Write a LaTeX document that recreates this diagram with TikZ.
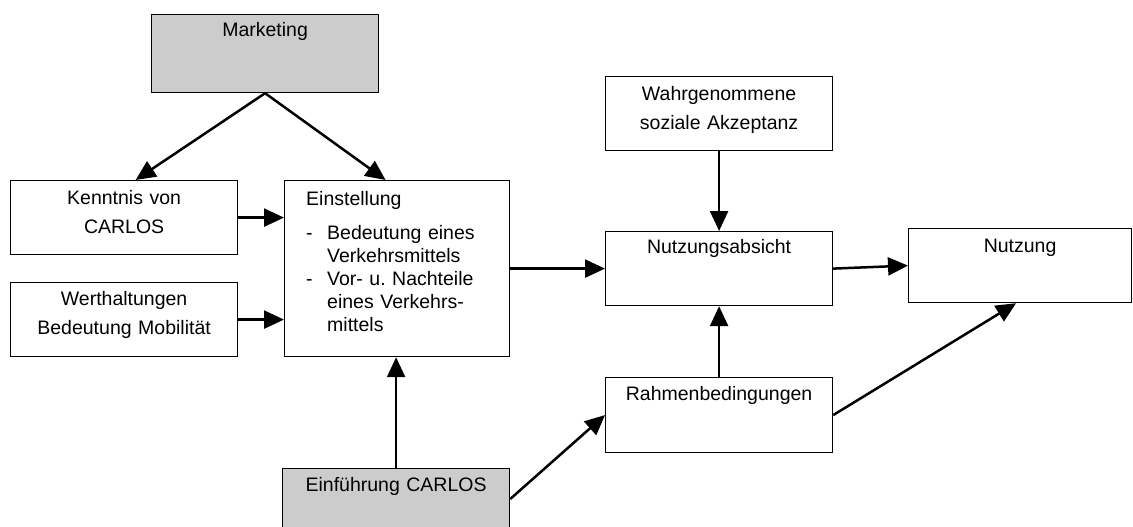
\documentclass[tikz,border=0pt]{standalone}
\usepackage{fontspec}
\setmainfont{Liberation Sans}
\usetikzlibrary{arrows.meta}
\definecolor{boxgray}{RGB}{204,204,204}
\begin{document}
\begin{tikzpicture}[x=1pt,y=-1pt,
  box/.style={draw, line width=1.2pt, inner sep=0pt, anchor=north west},
  graybox/.style={box, fill=boxgray},
  lbl/.style={anchor=base, inner sep=0pt, text width=215pt, align=center,
    font=\fontsize{19.5}{29}\selectfont},
  conn/.style={line width=2.5pt, -{Triangle[length=20pt,width=18pt]}}]
\useasboundingbox (0,0) rectangle (1133,527);
\clip (0,0) rectangle (1133,527);
% boxes
\node[graybox, minimum width=227pt, minimum height=78pt] (mk) at (151,14) {};
\node[box, minimum width=227pt, minimum height=74pt] (kn) at (10,180) {};
\node[box, minimum width=227pt, minimum height=74pt] (wh) at (10,282) {};
\node[box, minimum width=225pt, minimum height=176pt] (ein) at (284,180) {};
\node[box, minimum width=227pt, minimum height=74pt] (wa) at (605,76) {};
\node[box, minimum width=227pt, minimum height=74pt] (na) at (605,231) {};
\node[box, minimum width=223pt, minimum height=74pt] (nu) at (908,228) {};
\node[box, minimum width=227pt, minimum height=75pt] (ra) at (605,377) {};
\node[graybox, minimum width=227pt, minimum height=80pt] (ei) at (282,468) {};
% labels
\node[lbl] (mkt) at ([yshift=-23pt]mk.north) {Marketing};
\node[lbl] (knt) at ([yshift=-24pt]kn.north) {Kenntnis von\\CARLOS};
\node[lbl] (wht) at ([yshift=-23pt]wh.north) {Werthaltungen\\Bedeutung Mobilität};
\node[lbl] (wat) at ([yshift=-24pt]wa.north) {Wahrgenommene\\soziale Akzeptanz};
\node[lbl] (nat) at ([yshift=-22pt]na.north) {Nutzungsabsicht};
\node[lbl] (nut) at ([yshift=-24pt]nu.north) {Nutzung};
\node[lbl] (rat) at ([yshift=-23pt]ra.north) {Rahmenbedingungen};
\node[lbl] (eit) at ([yshift=-23pt]ei.north) {Einführung CARLOS};
\node[anchor=base west, inner sep=0pt, text width=200pt,
  font=\fontsize{19.5}{23}\selectfont] (eint) at ([xshift=22pt,yshift=-25pt]ein.north west)
  {\frenchspacing\rightskip=0pt plus 1fil Einstellung\par\vspace{11pt}%
   \hangindent=21pt\hangafter=1\noindent\makebox[21pt][l]{-}Bedeutung eines\newline Verkehrsmittels\par
   \hangindent=21pt\hangafter=1\noindent\makebox[21pt][l]{-}Vor- u.\ Nachteile\newline eines Verkehrs-\newline mittels\par};
% connectors
\draw[conn] (mk.south) -- ([xshift=11.5pt]kn.north);
\draw[conn] (mk.south) -- ([xshift=-11.5pt]ein.north);
\draw[conn] (kn.east) -- (kn.east -| ein.west);
\draw[conn] (wh.east) -- (wh.east -| ein.west);
\draw[conn] (ein.east) -- (na.west);
\draw[conn] (wa.south) -- (na.north);
\draw[conn] (na.east) -- (nu.west);
\draw[conn] (ra.north) -- (na.south);
\draw[conn] (ra.east) -- ([xshift=-4pt]nu.south);
\draw[conn] (ei.north) -- (ei.north |- ein.south);
\draw[conn] ([yshift=-31pt]ei.north east) -- (ra.west);
\end{tikzpicture}
\end{document}
